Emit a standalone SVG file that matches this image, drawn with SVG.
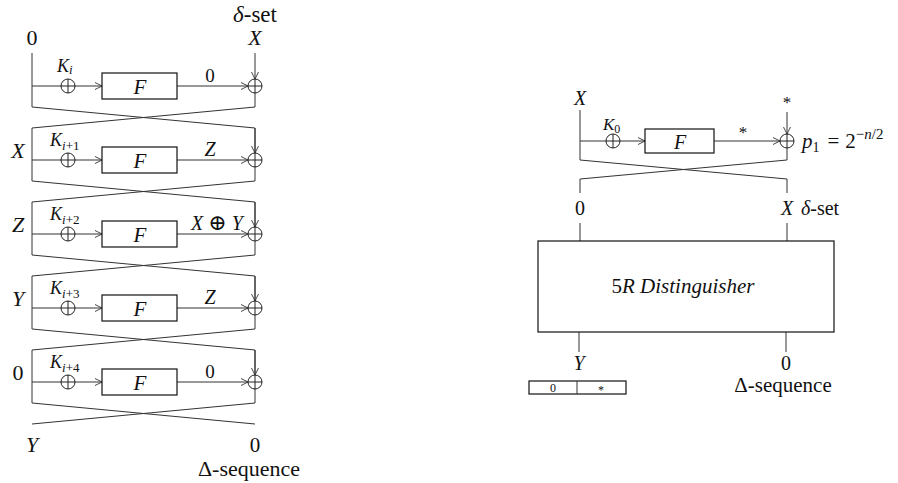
<svg xmlns="http://www.w3.org/2000/svg" width="898" height="483" viewBox="0 0 898 483">
<defs>
<marker id="ah" markerWidth="8" markerHeight="8" refX="7" refY="4" orient="auto" markerUnits="userSpaceOnUse">
<path d="M0,0.5 L7,4 L0,7.5" fill="none" stroke="#333" stroke-width="0.9"/>
</marker>
<g id="xor"><circle r="7" fill="#fff" stroke="#222" stroke-width="1"/><path d="M-7,0 H7 M0,-7 V7" stroke="#222" stroke-width="1"/></g>
</defs>
<style>
.ln{stroke:#333;stroke-width:1;fill:none}
.bx{fill:#fff;stroke:#111;stroke-width:1.2}
.t{font-family:"Liberation Serif","DejaVu Serif",serif;fill:#111}
.i{font-style:italic}
.m{text-anchor:middle}
</style>
<rect width="898" height="483" fill="#fff"/>
<g id="connectors">
<!-- left diagram -->
<path class="ln" d="M32,53 V107 L255,128 M255,107 L32,128"/>
<path class="ln" d="M255,53 V79" marker-end="url(#ah)"/>
<path class="ln" d="M255,79 V107"/>
<path class="ln" d="M32,86 H102" marker-end="url(#ah)"/>
<path class="ln" d="M177,86 H248" marker-end="url(#ah)"/>

<path class="ln" d="M32,128 V181 L255,202 M255,181 L32,202 M255,128 V181"/>
<path class="ln" d="M255,128 V153" marker-end="url(#ah)"/>
<path class="ln" d="M32,160 H102" marker-end="url(#ah)"/>
<path class="ln" d="M177,160 H248" marker-end="url(#ah)"/>

<path class="ln" d="M32,202 V255 L255,276 M255,255 L32,276 M255,202 V255"/>
<path class="ln" d="M255,202 V227" marker-end="url(#ah)"/>
<path class="ln" d="M32,234 H102" marker-end="url(#ah)"/>
<path class="ln" d="M177,234 H248" marker-end="url(#ah)"/>

<path class="ln" d="M32,276 V329 L255,350 M255,329 L32,350 M255,276 V329"/>
<path class="ln" d="M255,276 V301" marker-end="url(#ah)"/>
<path class="ln" d="M32,308 H102" marker-end="url(#ah)"/>
<path class="ln" d="M177,308 H248" marker-end="url(#ah)"/>

<path class="ln" d="M32,350 V403 L255,424 M255,403 L32,424 M255,350 V403"/>
<path class="ln" d="M255,350 V375" marker-end="url(#ah)"/>
<path class="ln" d="M32,382 H102" marker-end="url(#ah)"/>
<path class="ln" d="M177,382 H248" marker-end="url(#ah)"/>

<!-- right diagram -->
<path class="ln" d="M580,110 V160 L787,179 V193 M787,160 L580,179 V193 M787,134 V160"/>
<path class="ln" d="M787,112 V134" marker-end="url(#ah)"/>
<path class="ln" d="M580,141 H645" marker-end="url(#ah)"/>
<path class="ln" d="M714,141 H780" marker-end="url(#ah)"/>
<path class="ln" d="M580,223 V241 M787,223 V241 M579,332 V352 M786,332 V352"/>
</g>

<g id="left-labels">
<text class="t i m" x="255" y="22" font-size="23">δ<tspan font-style="normal">-set</tspan></text>
<text class="t m" x="32" y="45" font-size="22">0</text>
<text class="t i m" x="255" y="45" font-size="22">X</text>
<text class="t i m" x="18" y="158" font-size="22">X</text>
<text class="t i m" x="18" y="232" font-size="22">Z</text>
<text class="t i m" x="18" y="306" font-size="22">Y</text>
<text class="t m" x="18" y="380" font-size="22">0</text>
<text class="t i m" x="32" y="452" font-size="22">Y</text>
<text class="t m" x="255" y="452" font-size="21">0</text>
<text class="t m" x="249" y="476" font-size="22">Δ-sequence</text>
</g>

<g id="round1">
<use href="#xor" x="68" y="86"/>
<use href="#xor" x="255" y="86"/>
<rect class="bx" x="102" y="73" width="75" height="26"/>
<text class="t i m" x="140" y="94" font-size="21">F</text>
<text class="t i" x="57" y="72" font-size="18">K<tspan font-size="13" dy="2">i</tspan></text>
<text class="t m" x="210" y="82" font-size="19">0</text>
</g>
<g id="round2">
<use href="#xor" x="68" y="160"/>
<use href="#xor" x="255" y="160"/>
<rect class="bx" x="102" y="147" width="75" height="26"/>
<text class="t i m" x="140" y="168" font-size="21">F</text>
<text class="t i" x="50" y="146" font-size="18">K<tspan font-size="13" dy="4">i<tspan font-style="normal">+1</tspan></tspan></text>
<text class="t i m" x="210" y="156" font-size="20">Z</text>
</g>
<g id="round3">
<use href="#xor" x="68" y="234"/>
<use href="#xor" x="255" y="234"/>
<rect class="bx" x="102" y="221" width="75" height="26"/>
<text class="t i m" x="140" y="242" font-size="21">F</text>
<text class="t i" x="50" y="220" font-size="18">K<tspan font-size="13" dy="4">i<tspan font-style="normal">+2</tspan></tspan></text>
<text class="t i m" x="217" y="230" font-size="20">X <tspan font-style="normal" font-size="22">⊕</tspan> Y</text>
</g>
<g id="round4">
<use href="#xor" x="68" y="308"/>
<use href="#xor" x="255" y="308"/>
<rect class="bx" x="102" y="295" width="75" height="26"/>
<text class="t i m" x="140" y="316" font-size="21">F</text>
<text class="t i" x="50" y="294" font-size="18">K<tspan font-size="13" dy="4">i<tspan font-style="normal">+3</tspan></tspan></text>
<text class="t i m" x="210" y="304" font-size="20">Z</text>
</g>
<g id="round5">
<use href="#xor" x="68" y="382"/>
<use href="#xor" x="255" y="382"/>
<rect class="bx" x="102" y="369" width="75" height="26"/>
<text class="t i m" x="140" y="390" font-size="21">F</text>
<text class="t i" x="50" y="368" font-size="18">K<tspan font-size="13" dy="4">i<tspan font-style="normal">+4</tspan></tspan></text>
<text class="t m" x="210" y="378" font-size="19">0</text>
</g>

<g id="right-round">
<use href="#xor" x="613" y="141"/>
<use href="#xor" x="787" y="141"/>
<rect class="bx" x="645" y="129" width="69" height="24"/>
<text class="t i m" x="680" y="149" font-size="20">F</text>
<text class="t i" x="603" y="130" font-size="17">K<tspan font-size="12" dy="3" font-style="normal">0</tspan></text>
<text class="t m" x="743" y="138" font-size="17">*</text>
<text class="t i m" x="580" y="105" font-size="20">X</text>
<text class="t m" x="787" y="108" font-size="17">*</text>
<text class="t i" x="802" y="148" font-size="21">p<tspan font-size="14" dy="4" font-style="normal">1</tspan><tspan dx="8" dy="-4" font-style="normal">=</tspan><tspan dx="6" font-style="normal">2</tspan><tspan font-size="15" dy="-9" font-style="normal">−</tspan><tspan font-size="15">n</tspan><tspan font-size="15" font-style="normal">/2</tspan></text>
</g>
<g id="right-labels">
<text class="t m" x="580" y="215" font-size="20">0</text>
<text class="t i m" x="787" y="215" font-size="20">X</text>
<text class="t i" x="801" y="215" font-size="20">δ<tspan font-style="normal">-set</tspan></text>
<text class="t i m" x="579" y="370" font-size="20">Y</text>
<text class="t m" x="786" y="370" font-size="20">0</text>
<text class="t m" x="783" y="392" font-size="21">Δ-sequence</text>
</g>
<g id="distinguisher">
<rect class="bx" x="538" y="241" width="296" height="91"/>
<text class="t m" x="683" y="293" font-size="21">5<tspan font-style="italic">R Distinguisher</tspan></text>
</g>
<g id="state-box">
<rect class="bx" x="529" y="381" width="97" height="13" stroke-width="1"/>
<path class="ln" d="M577,381 V394" stroke="#111"/>
<text class="t m" x="553" y="392" font-size="12">0</text>
<text class="t m" x="601" y="394" font-size="12">*</text>
</g>
</svg>
